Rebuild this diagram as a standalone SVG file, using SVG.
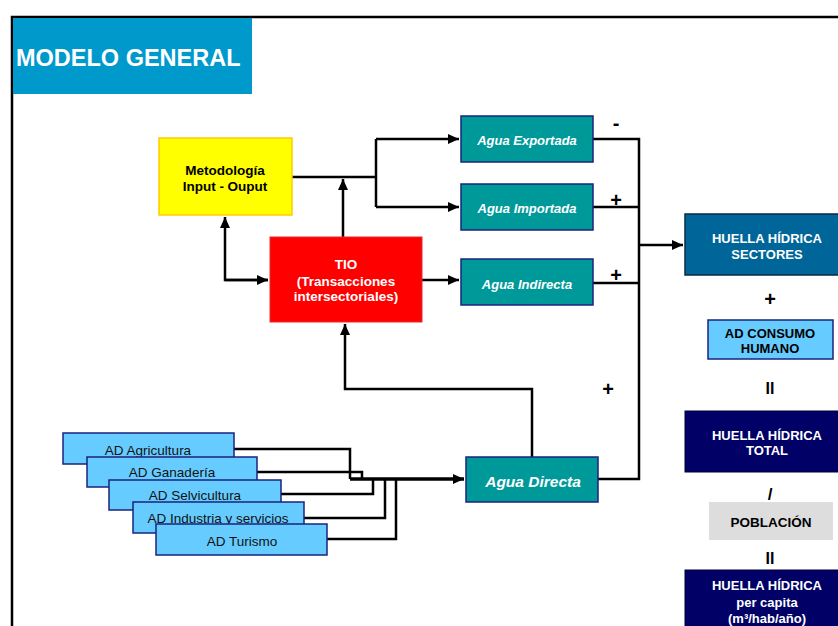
<svg xmlns="http://www.w3.org/2000/svg" width="838" height="626" viewBox="0 0 838 626">
<defs>
<marker id="ah" markerUnits="userSpaceOnUse" markerWidth="12" markerHeight="10" refX="11" refY="5" orient="auto"><path d="M0,0 L11,5 L0,10 z" fill="#000"/></marker>
<style>
text{font-family:"Liberation Sans",Arial,sans-serif;text-anchor:middle}
.b{font-weight:bold;font-size:13.5px}
.w{fill:#fff}
.agua{fill:#009999;stroke:#1a237e;stroke-width:1.5}
.aguat{font-weight:bold;font-style:italic;font-size:13px;fill:#fff}
.ad{fill:#66CCFF;stroke:#1a237e;stroke-width:1.5}
.adt{font-size:13.5px;fill:#111}
.ln{fill:none;stroke:#000;stroke-width:2.5}
.sg{font-weight:bold;font-size:20px}
</style>
</defs>
<rect width="838" height="626" fill="#fff"/>
<g id="frame"><path d="M12,626 V17 H838" fill="none" stroke="#000" stroke-width="2.5"/></g>
<g id="title"><rect x="13" y="18" width="239" height="76" fill="#0099CC"/><text x="16" y="66" style="text-anchor:start;font-weight:bold;font-size:23.5px" fill="#fff">MODELO GENERAL</text></g>

<g id="connectors">
<path class="ln" d="M292,177 H376 M376,139 V207"/>
<path class="ln" d="M376,139 H459" marker-end="url(#ah)"/>
<path class="ln" d="M376,207 H459" marker-end="url(#ah)"/>
<path class="ln" d="M343,237 V179" marker-end="url(#ah)"/>
<path class="ln" d="M268,280 H225 V217" marker-end="url(#ah)"/>
<path class="ln" d="M225,280 H268" marker-end="url(#ah)"/>
<path class="ln" d="M422,280 H459" marker-end="url(#ah)"/>
<path class="ln" d="M532,457 V389 H345 V324" marker-end="url(#ah)"/>
<path class="ln" d="M593,139 H639 V479 H598 M593,207 H639 M593,283 H639"/>
<path class="ln" d="M639,245 H683" marker-end="url(#ah)"/>
<path class="ln" d="M234,449 H350 V479 M257,472 H362 V479 M281,494 H373 V479 M304,518 H385 V479 M327,539 H396 V479"/>
<path class="ln" style="stroke-width:3.5" d="M350,479 H464" marker-end="url(#ah)"/>
</g>

<g id="metodologia"><rect x="159" y="138" width="133" height="77" fill="#FFFF00" stroke="#FFCC00" stroke-width="1.5"/><text class="b" x="225" y="175">Metodología</text><text class="b" x="225" y="191">Input - Ouput</text></g>
<g id="tio"><rect x="270" y="237" width="152" height="85" fill="#FF0000" stroke="#e03030" stroke-width="1"/><text class="b w" x="346" y="269">TIO</text><text class="b w" x="346" y="286">(Transacciones</text><text class="b w" x="346" y="301">intersectoriales)</text></g>

<g id="agua-exportada"><rect class="agua" x="461" y="116" width="132" height="46"/><text class="aguat" x="527" y="145">Agua Exportada</text></g>
<g id="agua-importada"><rect class="agua" x="461" y="184" width="132" height="46"/><text class="aguat" x="527" y="213">Agua Importada</text></g>
<g id="agua-indirecta"><rect class="agua" x="461" y="259" width="132" height="46"/><text class="aguat" x="527" y="289">Agua Indirecta</text></g>
<g id="agua-directa"><rect class="agua" x="466" y="457" width="132" height="45"/><text class="aguat" x="533" y="487" style="font-size:15.5px">Agua Directa</text></g>

<g id="signs"><text class="sg" x="616" y="130">-</text><text class="sg" x="616" y="207">+</text><text class="sg" x="616" y="282">+</text><text class="sg" x="608" y="396">+</text></g>

<g id="ad-agricultura"><rect class="ad" x="63" y="433" width="171" height="31"/><text class="adt" x="148" y="455">AD Agricultura</text></g>
<g id="ad-ganaderia"><rect class="ad" x="87" y="457" width="170" height="30"/><text class="adt" x="172" y="477">AD Ganadería</text></g>
<g id="ad-selvicultura"><rect class="ad" x="109" y="480" width="172" height="30"/><text class="adt" x="195" y="500">AD Selvicultura</text></g>
<g id="ad-industria"><rect class="ad" x="133" y="502" width="171" height="31"/><text class="adt" x="218" y="523">AD Industria y servicios</text></g>
<g id="ad-turismo"><rect class="ad" x="156" y="524" width="171" height="31"/><text class="adt" x="242" y="546">AD Turismo</text></g>

<g id="huella-sectores"><rect x="685" y="214" width="165" height="61" fill="#006699" stroke="#0a2a40" stroke-width="1.5"/><text class="b w" style="font-size:13px" x="767" y="243">HUELLA HÍDRICA</text><text class="b w" style="font-size:13px" x="767" y="259">SECTORES</text></g>
<g id="op1"><text class="sg" x="770" y="306">+</text></g>
<g id="ad-consumo"><rect x="708" y="320" width="125" height="39" fill="#66CCFF" stroke="#1a237e" stroke-width="1.5"/><text class="b" style="font-size:13px" x="770" y="338">AD CONSUMO</text><text class="b" style="font-size:13px" x="770" y="353">HUMANO</text></g>
<g id="op2"><text class="b" style="font-size:16px" x="770" y="394">II</text></g>
<g id="huella-total"><rect x="685" y="411" width="165" height="61" fill="#000066" stroke="#000033" stroke-width="1"/><text class="b w" style="font-size:13px" x="767" y="440">HUELLA HÍDRICA</text><text class="b w" style="font-size:13px" x="767" y="455">TOTAL</text></g>
<g id="op3"><text class="b" style="font-size:17px" x="770" y="500">/</text></g>
<g id="poblacion"><rect x="709" y="502" width="124" height="38" fill="#DDDDDD"/><text class="b" x="771" y="527">POBLACIÓN</text></g>
<g id="op4"><text class="b" style="font-size:16px" x="770" y="564">II</text></g>
<g id="huella-percapita"><rect x="685" y="570" width="165" height="70" fill="#000066" stroke="#000033" stroke-width="1"/><text class="b w" style="font-size:13px" x="767" y="590">HUELLA HÍDRICA</text><text class="b w" style="font-size:13px" x="767" y="607">per capita</text><text class="b w" style="font-size:13px" x="767" y="623">(m³/hab/año)</text></g>
</svg>
